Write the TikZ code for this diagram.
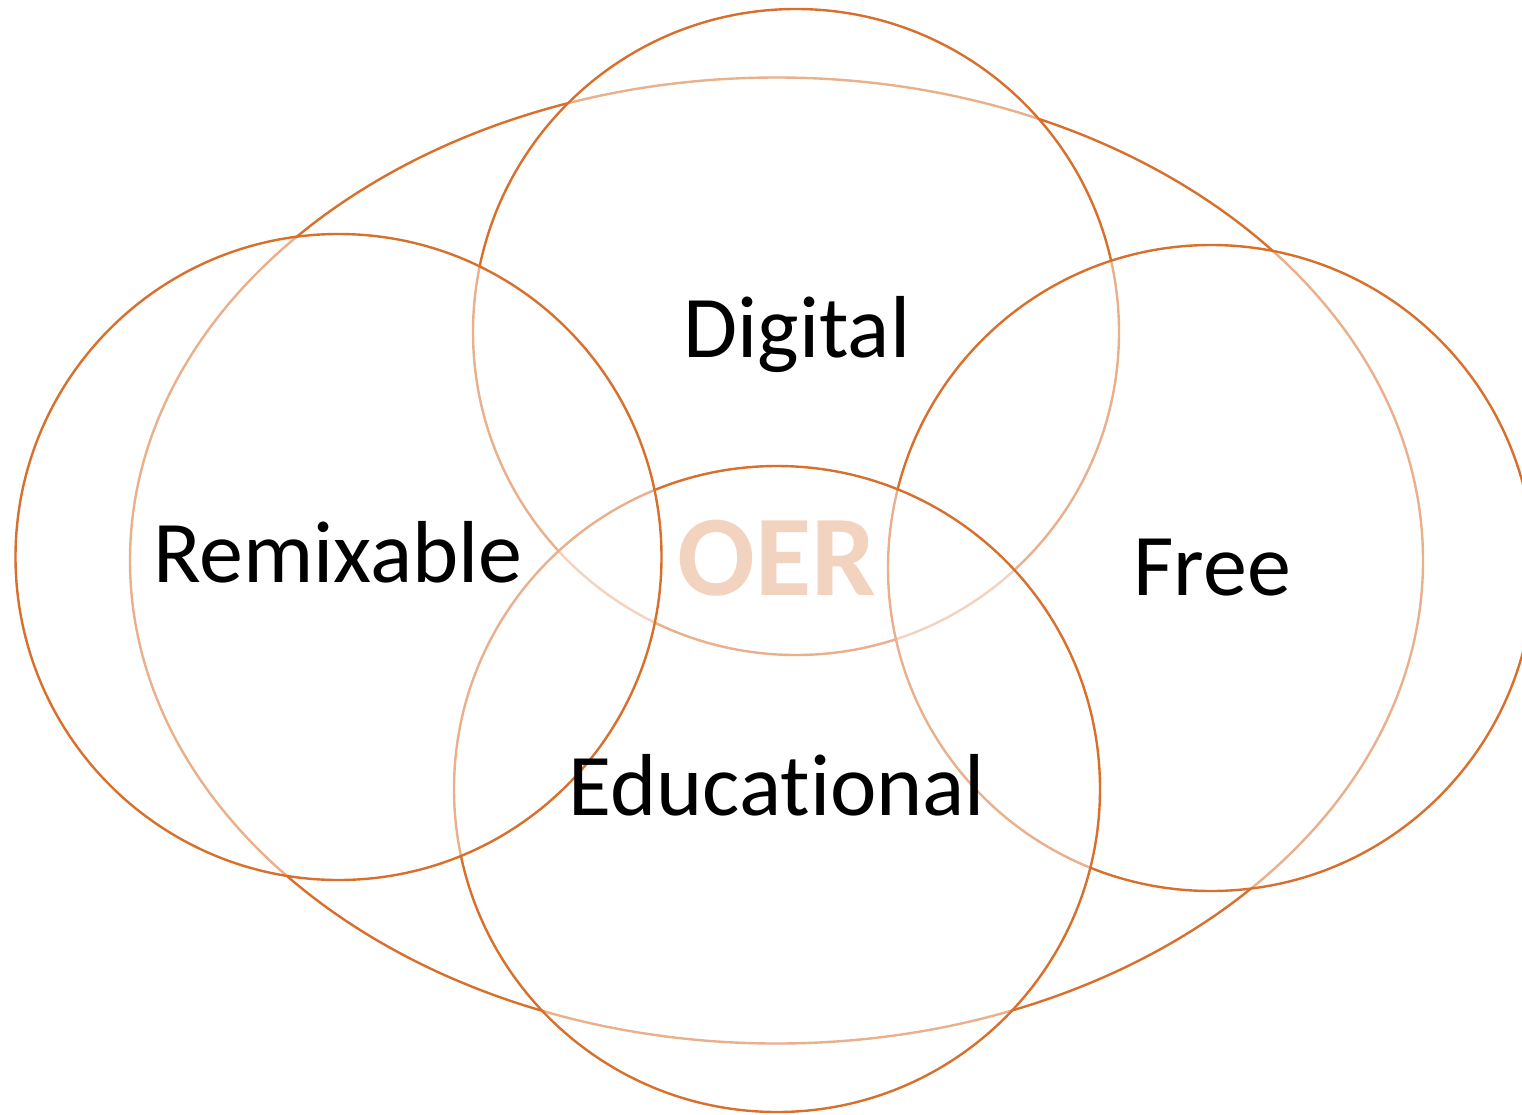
\documentclass[tikz,border=0pt]{standalone}
\usepackage{fontspec}
\setmainfont{Carlito}[Ligatures={NoCommon,NoRare,NoDiscretionary}]
\definecolor{oerline}{RGB}{216,112,44}
\begin{document}
\begin{tikzpicture}[x=1pt,y=-1pt,
  shp/.style={draw=oerline,line width=2.4pt,fill=white,fill opacity=0.45,draw opacity=1},
  lbl/.style={anchor=base,text=black,font=\fontsize{88}{100}\selectfont},
  oer/.style={anchor=base,text=oerline,font=\fontsize{115}{130}\selectfont\bfseries}]
\useasboundingbox (0,0) rectangle (1522,1114);
\coordinate (ec) at (776.5,560.5);
\coordinate (dc) at (796,332);
\coordinate (fc) at (1211,568);
\coordinate (uc) at (777,789);
\coordinate (rc) at (338.5,557);
\draw[shp] (ec) ellipse [x radius=646.5, y radius=483];
\node[oer] (oer) at (777,595) {OER};
\draw[shp] (dc) circle [radius=323];
\draw[shp] (fc) circle [radius=323];
\draw[shp] (uc) circle [radius=323];
\draw[shp] (rc) circle [radius=323];
\node[lbl] (digital) at (797,357) {Digital};
\node[lbl] (remix) at (338,582) {Remixable};
\node[lbl] (free) at (1212,595) {Free};
\node[lbl] (edu) at (777,815) {Educational};
\end{tikzpicture}
\end{document}
